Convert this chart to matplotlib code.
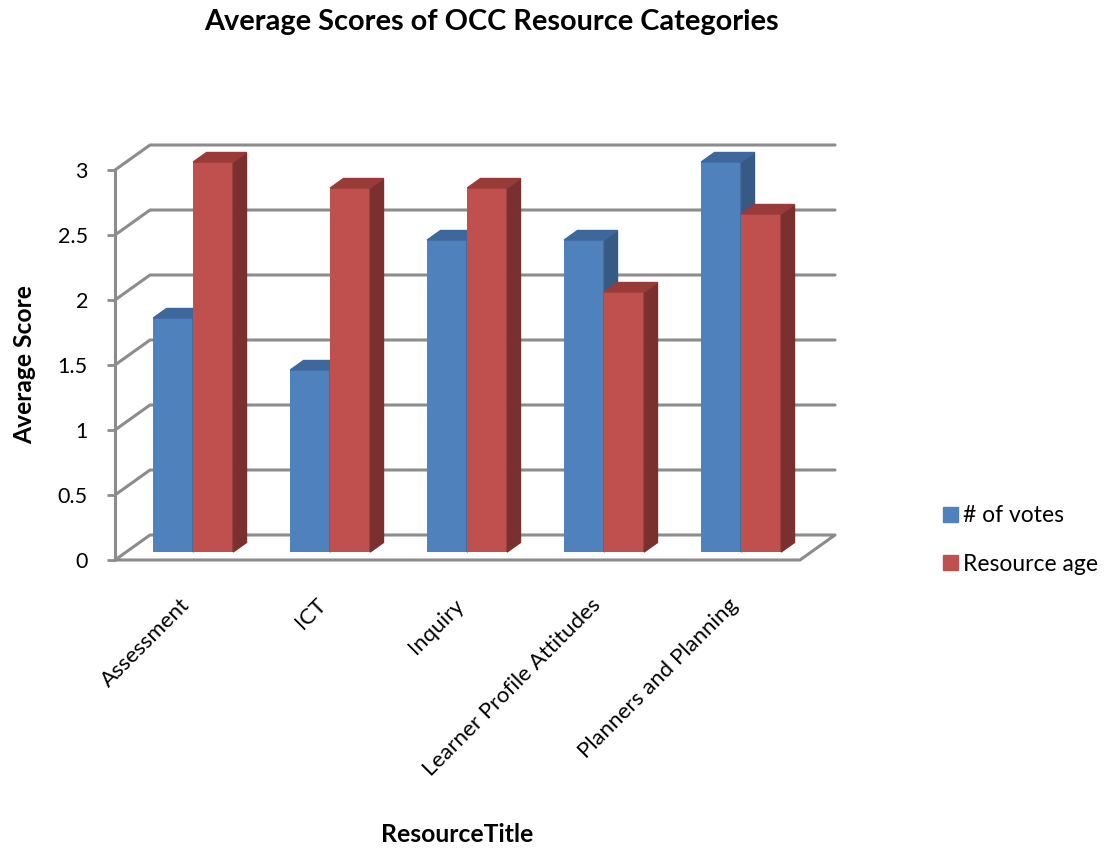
import numpy as np
import matplotlib.pyplot as plt
from matplotlib.patches import Polygon, Patch

categories = ['Assessment', 'ICT', 'Inquiry', 'Learner Profile Attitudes', 'Planners and Planning']
votes = [1.8, 1.4, 2.4, 2.4, 3.0]
resource_age = [3.0, 2.8, 2.8, 2.0, 2.6]
series_names = ['# of votes', 'Resource age']
yticks = [0, 0.5, 1, 1.5, 2, 2.5, 3]

# front / side / top shades for each series
face_colors = [('#4F81BD', '#375A85', '#3E689C'),
               ('#C0504D', '#7A302E', '#983B39')]

plt.rcParams['font.family'] = ['Lato', 'DejaVu Sans']

fig = plt.figure(figsize=(11.14, 8.48), dpi=100)
W, H = 1114, 848
ax = fig.add_axes([115 / W, (H - 560) / H, 720 / W, 430 / H])

# fake perspective: offset of one full depth unit in data coords
DX, DY = 35 / 137, 25 / 130
xl, xr = -0.489, 4.511
ax.set_xlim(xl, xr + DX)
ax.set_ylim(0, 430 / 130)

grid_kw = dict(color='#8C8C8C', lw=2.2, solid_capstyle='round', clip_on=False, zorder=1)

# floor
ax.plot([xl, xr, xr + DX, xl + DX, xl], [0, 0, DY, DY, 0], **grid_kw)
# back wall and side wall gridlines
for v in yticks[1:]:
    ax.plot([xl, xl + DX, xr + DX], [v, v + DY, v + DY], **grid_kw)
ax.plot([xl, xl], [0, 3], **grid_kw)

# 3d-looking columns
bar_w = 0.292
d0, depth = 0.32, 0.38
for s, vals in enumerate([votes, resource_age]):
    front, side, top = face_colors[s]
    x0 = np.arange(len(categories)) + DX * d0 + (s - 1) * bar_w
    base = DY * d0
    ax.bar(x0, vals, width=bar_w, bottom=base, align='edge', color=front, zorder=3)
    for x, v in zip(x0, vals):
        h = base + v
        x1 = x + bar_w
        ax.add_patch(Polygon([(x1, base), (x1 + DX * depth, base + DY * depth),
                              (x1 + DX * depth, h + DY * depth), (x1, h)],
                             closed=True, color=side, zorder=3))
        ax.add_patch(Polygon([(x, h), (x1, h), (x1 + DX * depth, h + DY * depth),
                              (x + DX * depth, h + DY * depth)],
                             closed=True, color=top, zorder=3))

for sp in ax.spines.values():
    sp.set_visible(False)

ax.set_yticks(yticks, ['0', '0.5', '1', '1.5', '2', '2.5', '3'])
ax.tick_params(axis='y', length=6, width=2, color='#8C8C8C', pad=13.5, labelsize=15.5)
ax.set_xticks(np.arange(len(categories)) - 0.02, categories)
ax.tick_params(axis='x', length=0, pad=25, labelsize=16)
for lbl in ax.get_xticklabels():
    lbl.set_rotation(45)
    lbl.set_ha('right')
    lbl.set_va('top')
    lbl.set_rotation_mode('anchor')

fig.text(491 / W, 1 - 22 / H, 'Average Scores of OCC Resource Categories',
         ha='center', va='center', fontsize=20.8, fontweight='bold')
fig.text(25 / W, 1 - 365 / H, 'Average Score', rotation=90,
         ha='center', va='center', fontsize=17.7, fontweight='bold')
fig.text(457 / W, 1 - 835 / H, 'ResourceTitle',
         ha='center', va='center', fontsize=17.8, fontweight='bold')

handles = [Patch(color=face_colors[i][0]) for i in range(2)]
fig.legend(handles, series_names, loc='center left', bbox_to_anchor=(922 / W, 1 - 540 / H),
           frameon=False, fontsize=16.5, handlelength=0.65, handleheight=0.65,
           handletextpad=0.25, labelspacing=1.2)

fig.savefig('out.png', dpi=100)
